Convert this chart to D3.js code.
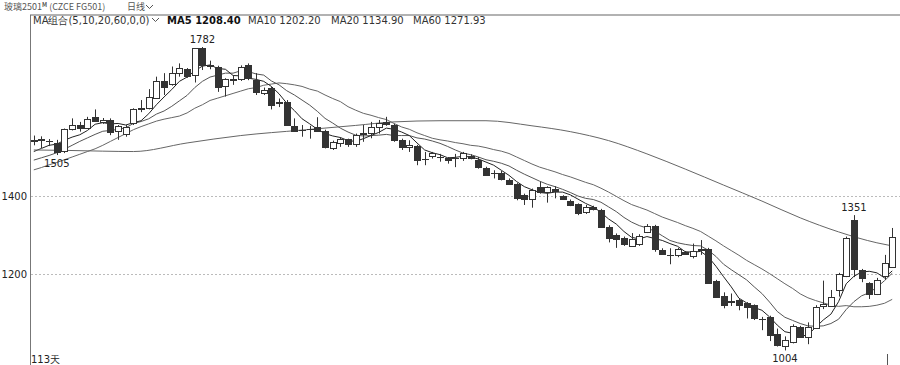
<!DOCTYPE html>
<html>
<head>
<meta charset="utf-8">
<script src="https://cdn.jsdelivr.net/npm/d3@7"></script>
<style>
body { margin: 0; background: #fff; }
text { font-family: 'DejaVu Sans', sans-serif; }
</style>
</head>
<body>
<script>
// daily candles, oldest first (113 days)
const open = [1540,1544,1540,1537,1514,1571,1582,1575,1603,1591,
  1595,1565,1560,1586,1625,1625,1653,1694,1688,1715,
  1725,1710,1779,1735,1732,1680,1697,1699,1735,1697,
  1665,1678,1640,1640,1580,1569,1570,1576,1567,1522,
  1538,1545,1533,1560,1562,1577,1590,1581,1543,1528,
  1528,1494,1503,1500,1498,1496,1495,1503,1492,1472,
  1458,1460,1442,1430,1402,1391,1423,1410,1418,1399,
  1388,1379,1357,1372,1364,1320,1300,1292,1272,1277,
  1307,1324,1262,1250,1249,1257,1247,1263,1264,1182,
  1144,1132,1133,1126,1120,1084,1090,1045,1014,1027,
  1065,1037,1063,1118,1120,1159,1194,1339,1210,1176,
  1150,1193,1219];
const high = [1555,1553,1546,1544,1573,1599,1590,1603,1622,1600,
  1599,1582,1582,1625,1646,1674,1706,1715,1732,1740,
  1728,1779,1782,1747,1734,1702,1710,1735,1740,1715,
  1678,1680,1650,1646,1599,1582,1580,1602,1570,1542,
  1551,1547,1560,1582,1590,1595,1603,1585,1547,1543,
  1531,1513,1513,1508,1500,1508,1513,1507,1500,1475,
  1466,1464,1445,1433,1406,1419,1436,1425,1425,1402,
  1391,1381,1377,1375,1367,1325,1304,1296,1305,1302,
  1328,1326,1266,1266,1267,1259,1278,1287,1267,1185,
  1153,1150,1137,1128,1122,1090,1093,1060,1040,1071,
  1067,1076,1120,1183,1159,1203,1296,1351,1213,1179,
  1190,1249,1318];
const low = [1530,1523,1528,1505,1510,1568,1565,1572,1590,1585,
  1556,1544,1552,1582,1615,1622,1650,1659,1683,1706,
  1703,1691,1723,1725,1667,1655,1685,1695,1697,1659,
  1659,1622,1628,1580,1567,1552,1547,1565,1522,1518,
  1526,1526,1526,1539,1548,1560,1580,1539,1518,1513,
  1479,1479,1496,1488,1483,1474,1490,1494,1470,1452,
  1445,1440,1430,1389,1377,1370,1406,1383,1394,1390,
  1374,1351,1354,1363,1319,1281,1267,1272,1270,1272,
  1305,1257,1249,1225,1243,1249,1240,1249,1176,1140,
  1112,1118,1107,1086,1082,1056,1028,1014,1004,1022,
  1036,1020,1061,1110,1116,1142,1192,1192,1179,1136,
  1146,1185,1216];
const close = [1543,1546,1541,1514,1571,1582,1575,1597,1593,1595,
  1565,1579,1578,1622,1623,1653,1696,1678,1715,1728,
  1706,1779,1736,1733,1680,1699,1699,1731,1702,1665,
  1672,1635,1638,1582,1567,1569,1571,1567,1526,1538,
  1547,1532,1556,1562,1577,1588,1585,1543,1526,1532,
  1492,1495,1510,1501,1494,1497,1509,1499,1475,1455,
  1457,1445,1433,1394,1391,1415,1411,1422,1413,1391,
  1377,1355,1371,1366,1321,1293,1291,1276,1290,1298,
  1323,1266,1251,1250,1264,1253,1260,1265,1178,1142,
  1120,1130,1120,1116,1086,1084,1043,1018,1030,1067,
  1040,1063,1116,1122,1142,1201,1292,1213,1189,1148,
  1185,1227,1296];

// moving average lines
const ma5 = [1514,1522,1530,1533,1543,1551,1557,1568,1584,1588,
  1585,1586,1582,1588,1593,1611,1634,1654,1673,1694,
  1705,1721,1733,1736,1727,1725,1709,1708,1702,1699,
  1694,1681,1662,1638,1619,1598,1585,1571,1560,1554,
  1550,1542,1540,1547,1555,1563,1574,1571,1564,1555,
  1536,1518,1511,1506,1498,1499,1502,1500,1495,1487,
  1479,1466,1453,1437,1424,1416,1409,1407,1410,1410,
  1403,1392,1381,1372,1358,1341,1328,1309,1294,1290,
  1296,1291,1286,1278,1271,1257,1256,1258,1244,1220,
  1193,1167,1138,1126,1114,1107,1090,1069,1052,1048,
  1040,1044,1063,1082,1097,1129,1175,1194,1205,1207,
  1203,1190,1208];
const ma10 = [1492,1498,1504,1511,1520,1530,1540,1549,1558,1566,
  1568,1571,1575,1586,1591,1598,1610,1618,1630,1644,
  1658,1678,1694,1705,1710,1715,1715,1721,1719,1713,
  1710,1695,1685,1670,1659,1646,1633,1617,1599,1587,
  1574,1564,1556,1554,1555,1556,1558,1555,1555,1555,
  1549,1546,1541,1535,1527,1518,1510,1506,1500,1493,
  1489,1484,1477,1466,1456,1447,1438,1430,1424,1417,
  1409,1400,1394,1391,1384,1372,1360,1345,1333,1324,
  1318,1310,1298,1286,1280,1276,1273,1272,1261,1245,
  1225,1211,1198,1185,1167,1150,1128,1104,1089,1081,
  1073,1067,1066,1067,1073,1084,1109,1129,1144,1152,
  1166,1183,1202];
const ma20 = [1467,1473,1480,1486,1493,1500,1507,1514,1521,1530,
  1540,1550,1560,1570,1578,1585,1592,1597,1601,1605,
  1613,1625,1634,1645,1651,1657,1663,1669,1675,1678,
  1684,1687,1690,1688,1685,1681,1674,1669,1659,1650,
  1642,1629,1620,1612,1607,1601,1596,1586,1577,1571,
  1562,1555,1548,1544,1541,1537,1534,1530,1528,1524,
  1519,1515,1509,1500,1491,1482,1474,1468,1462,1455,
  1449,1442,1435,1429,1420,1410,1399,1388,1378,1371,
  1364,1355,1346,1339,1332,1324,1317,1309,1297,1285,
  1272,1260,1248,1235,1224,1213,1201,1188,1175,1163,
  1149,1139,1132,1126,1120,1117,1119,1116,1116,1117,
  1120,1125,1135];
// [day index, value]
const ma60 = [[0,1518],[4,1517],[9,1515],[13,1514],[20,1536],[27,1555],[35,1569],
  [42,1581],[47,1590],[53,1593],[59,1593],[65,1580],[70,1565],[75,1542],[80,1508],
  [85,1469],[90,1428],[95,1387],[100,1344],[105,1308],[110,1280],[112,1272]];

const yTicks = [1200, 1400];
const legend = [['MA5', '1208.40'], ['MA10', '1202.20'], ['MA20', '1134.90'], ['MA60', '1271.93']];
const marks = [[22, 'high', '1782'], [3, 'low', '1505'], [107, 'high', '1351'], [98, 'low', '1004']];

const w = 900;
const h = 365;
const days = d3.range(close.length);

const xScale = d3.scaleBand().domain(days).range([29, 897]).padding(0.25);
const yScale = d3.scaleLinear().domain([1000, 1800]).range([352, 40]);
const cx = i => xScale(i) + xScale.bandwidth() / 2;

const svg = d3.select('body')
  .append('svg')
  .attr('width', w)
  .attr('height', h)
  .style('display', 'block');

const chevron = (x, y) => svg.append('path')
  .attr('d', `M${x},${y} l3.5,3.5 l3.5,-3.5`)
  .attr('fill', 'none')
  .attr('stroke', '#555')
  .attr('stroke-width', 1);

// header
const title = svg.append('text')
  .attr('x', 4).attr('y', 10)
  .attr('font-size', 9)
  .attr('fill', '#555')
  .style('font-family', "'Noto Sans CJK SC', sans-serif");
title.append('tspan').text('玻璃2501');
title.append('tspan').attr('font-size', 6).attr('dy', -3).attr('font-weight', 'bold').text('M');
title.append('tspan').attr('dy', 3).text(' (CZCE FG501)');
svg.append('text')
  .attr('x', 127).attr('y', 10)
  .attr('font-size', 9)
  .attr('fill', '#555')
  .style('font-family', "'Noto Sans CJK SC', sans-serif")
  .text('日线');
chevron(146, 5);

svg.append('line')
  .attr('x1', 30).attr('x2', w)
  .attr('y1', 15).attr('y2', 15)
  .attr('stroke', '#999')
  .attr('stroke-width', 1.5);

svg.append('text')
  .attr('x', 33).attr('y', 24)
  .attr('font-size', 10)
  .attr('fill', '#333')
  .text('MA组合(5,10,20,60,0,0)');
chevron(152, 18);

const legendX = [167, 248, 331, 413];
svg.selectAll('.legend')
  .data(legend)
  .enter()
  .append('text')
  .attr('class', 'legend')
  .attr('x', (d, i) => legendX[i])
  .attr('y', 24)
  .attr('font-size', 10)
  .attr('fill', (d, i) => i === 0 ? '#111' : '#333')
  .attr('font-weight', (d, i) => i === 0 ? 'bold' : 'normal')
  .text(d => d[0] + ' ' + d[1]);

// grid + axis
svg.selectAll('.grid')
  .data(yTicks)
  .enter()
  .append('line')
  .attr('class', 'grid')
  .attr('x1', 31).attr('x2', w)
  .attr('y1', d => Math.round(yScale(d)) + 0.5)
  .attr('y2', d => Math.round(yScale(d)) + 0.5)
  .attr('stroke', '#bbb')
  .attr('stroke-dasharray', '2,2');

const y_axis = d3.axisLeft(yScale).tickValues(yTicks).tickFormat(d3.format('d')).tickSize(0).tickPadding(3);
svg.append('g')
  .attr('transform', 'translate(30,0)')
  .call(y_axis)
  .call(g => g.select('.domain').remove())
  .call(g => g.selectAll('text')
    .attr('font-size', 10)
    .attr('fill', '#222')
    .style('font-family', "'DejaVu Sans', sans-serif"));

svg.append('line')
  .attr('x1', 30.5).attr('x2', 30.5)
  .attr('y1', 15).attr('y2', h)
  .attr('stroke', '#777');

// moving averages
const line = d3.line().x((d, i) => cx(i)).y(d => yScale(d));
[[ma20, '#666'], [ma10, '#555'], [ma5, '#222']].forEach(([s, c]) => {
  svg.append('path')
    .attr('d', line(s))
    .attr('fill', 'none')
    .attr('stroke', c)
    .attr('stroke-width', 1);
});
svg.append('path')
  .attr('d', d3.line().curve(d3.curveMonotoneX).x(d => cx(d[0])).y(d => yScale(d[1]))(ma60))
  .attr('fill', 'none')
  .attr('stroke', '#666')
  .attr('stroke-width', 1);

// candles
const candles = svg.selectAll('.candle')
  .data(days)
  .enter()
  .append('g')
  .attr('class', 'candle');

candles.append('line')
  .attr('x1', i => Math.round(cx(i)) + 0.5)
  .attr('x2', i => Math.round(cx(i)) + 0.5)
  .attr('y1', i => yScale(high[i]))
  .attr('y2', i => yScale(low[i]))
  .attr('stroke', '#333');

candles.append('rect')
  .attr('x', i => Math.round(cx(i)) - 2.5)
  .attr('y', i => Math.round(yScale(Math.max(open[i], close[i]))) + 0.5)
  .attr('width', 6)
  .attr('height', i => Math.max(0.01, Math.round(Math.abs(yScale(open[i]) - yScale(close[i])))))
  .attr('fill', i => close[i] < open[i] ? '#333' : '#fff')
  .attr('stroke', '#333');

// high / low labels
svg.selectAll('.mark')
  .data(marks)
  .enter()
  .append('text')
  .attr('class', 'mark')
  .attr('x', d => cx(d[0]))
  .attr('y', d => d[1] === 'high' ? yScale(high[d[0]]) - 4 : yScale(low[d[0]]) + 12)
  .attr('text-anchor', 'middle')
  .attr('font-size', 10)
  .attr('fill', '#222')
  .text(d => d[2]);

svg.append('text')
  .attr('x', 31).attr('y', 363)
  .attr('font-size', 10)
  .attr('fill', '#222')
  .text(days.length + '天');

svg.append('line')
  .attr('x1', 887.5).attr('x2', 887.5)
  .attr('y1', 354).attr('y2', h)
  .attr('stroke', '#555');
</script>
</body>
</html>
